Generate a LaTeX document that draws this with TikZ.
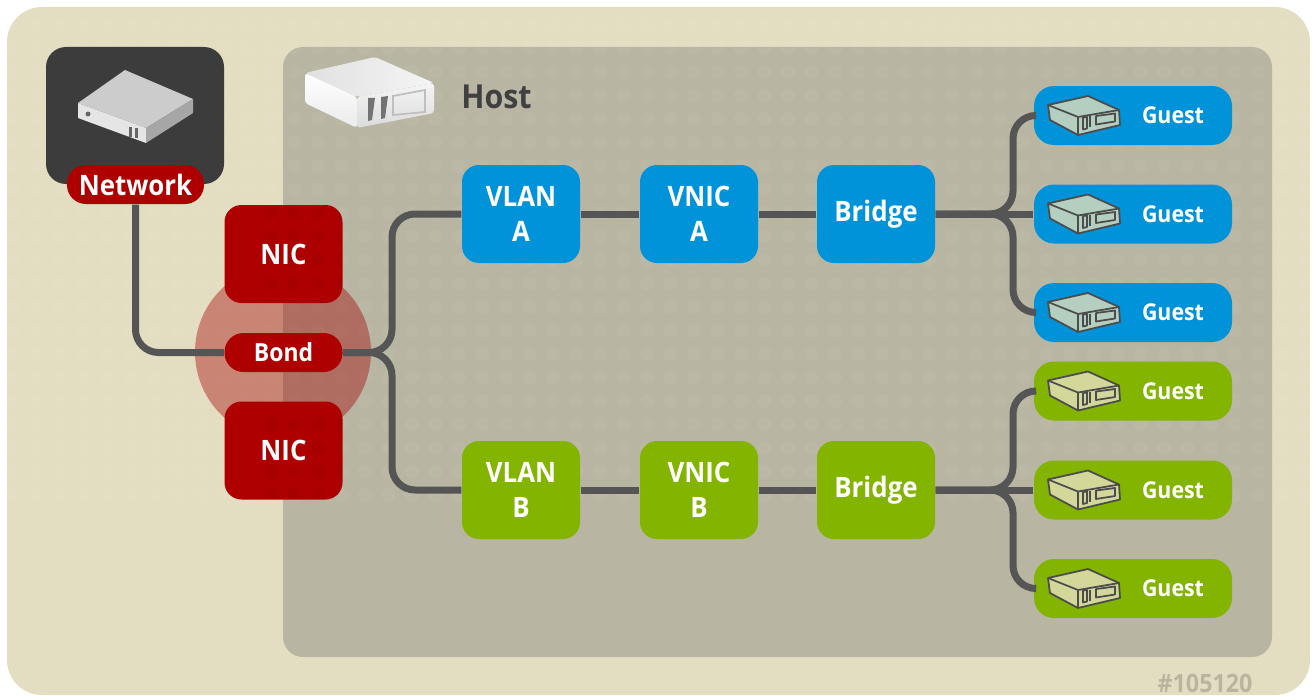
\documentclass[tikz,border=0pt]{standalone}
\usepackage{fontspec}
\setmainfont[FakeStretch=.92]{Open Sans}
\usepackage{tikz, xcolor}

\definecolor{pagebeige}{HTML}{E3DDC2}
\definecolor{hostgrey}{HTML}{B8B5A3}
\definecolor{darkbox}{HTML}{3C3C3C}
\definecolor{wiregrey}{HTML}{555555}
\definecolor{nicred}{HTML}{AE0000}
\definecolor{halored}{HTML}{A20000}
\definecolor{netblue}{HTML}{0093D9}
\definecolor{netgreen}{HTML}{82B400}
\definecolor{guestmint}{HTML}{B4CFC0}
\definecolor{guestpale}{HTML}{D3D89A}

\tikzset{
    wire/.style={line width=.07cm, color=wiregrey, rounded corners=.23cm},
    netbox/.style={rounded corners=.17cm, minimum width=1.18cm, minimum height=.98cm, inner sep=0pt, align=center, text=white, font=\bfseries\fontsize{8}{10}\selectfont},
    pill/.style={netbox, fill=nicred, rounded corners=.19cm, minimum height=.39cm},
    guestbox/.style={netbox, rounded corners=.2cm, minimum width=1.98cm, minimum height=.59cm, font=\bfseries\fontsize{6.6}{8}\selectfont},
    iconline/.style={draw=black!70, line width=.5pt, line join=round},
    guesticon/.pic={
        \draw [fill=#1, iconline] (.04, .195) -- (-.36, .105) -- (-.34, -.045) -- (-.06, -.195) -- (.36, -.095) -- (.35, .055) -- cycle;
        \draw [iconline] (-.36, .105) -- (-.06, -.015) -- (.35, .055);
        \draw [iconline] (-.06, -.015) -- (-.06, -.195);
        \draw [iconline] (.12, -.005) -- (.31, .02) -- (.31, -.06) -- (.12, -.09) -- cycle;
        \draw [iconline] (-.01, -.02) -- (-.01, -.14) -- (.03, -.13) -- (.03, -.015) -- cycle;
        \draw [iconline] (.06, -.01) -- (.06, -.12);
    }
}

\begin{document}
\begin{tikzpicture}
    \useasboundingbox (0, 0) rectangle (13.13, 6.95);
    \fill [fill=pagebeige, rounded corners=.35cm] (.07, 0) rectangle (13.1, 6.88);
    \fill [fill=hostgrey, rounded corners=.2cm] (2.83, .38) rectangle (12.72, 6.48);

    \begin{scope}
        \clip [rounded corners=.35cm] (.07, 0) rectangle (13.1, 6.88);
        \foreach \i in {0, ..., 55} {
            \foreach \j in {8, ..., 28} {
                \fill [fill=white, opacity=.045] (.125 + .235 * \i, .12 + .235 * \j) circle (.07);
            }
        }
    \end{scope}

    \fill [fill=halored, opacity=.4] (2.83, 3.43) circle (.88);

    \node (networkbox) [netbox, fill=darkbox, rounded corners=.2cm, minimum width=1.78cm, minimum height=1.37cm] at (1.35, 5.795) {};
    \node (networklabel) [pill, minimum width=1.37cm] at (1.355, 5.105) {Network};

    \fill [fill=black!20] (.78, 5.92) -- (1.25, 6.25) -- (1.93, 5.96) -- (1.46, 5.67) -- cycle;
    \fill [fill=black!10] (.78, 5.92) -- (1.46, 5.67) -- (1.46, 5.52) -- (.78, 5.77) -- cycle;
    \fill [fill=black!35] (1.46, 5.67) -- (1.93, 5.96) -- (1.93, 5.82) -- (1.46, 5.52) -- cycle;
    \fill [fill=black!60] (.88, 5.81) circle (.025);
    \fill [fill=black!60] (1.29, 5.68) rectangle (1.32, 5.58);
    \fill [fill=black!60] (1.35, 5.67) rectangle (1.38, 5.57);

    \shade [left color=black!12, right color=black!4, rounded corners=.03cm] (3.05, 6.22) -- (3.75, 6.38) -- (4.34, 6.12) -- (3.57, 5.98) -- cycle;
    \shade [top color=white, bottom color=black!8, rounded corners=.03cm] (3.05, 6.22) -- (3.57, 5.98) -- (3.57, 5.67) -- (3.05, 5.92) -- cycle;
    \shade [top color=black!4, bottom color=black!14, rounded corners=.03cm] (3.57, 5.98) -- (4.34, 6.12) -- (4.34, 5.82) -- (3.57, 5.67) -- cycle;
    \fill [fill=black!55] (3.68, 5.97) -- (3.75, 5.97) -- (3.72, 5.75) -- (3.68, 5.74) -- cycle;
    \fill [fill=black!55] (3.81, 5.98) -- (3.88, 5.99) -- (3.85, 5.77) -- (3.81, 5.76) -- cycle;
    \draw [draw=black!25, line width=.5pt] (3.93, 5.99) -- (4.25, 6.05) -- (4.25, 5.83) -- (3.93, 5.8) -- cycle;
    \node (hostlabel) [text=black!75, font=\bfseries\fontsize{9.4}{11}\selectfont] at (4.965, 5.98) {Host};

    \node (nictop) [netbox, fill=nicred] at (2.835, 4.41) {NIC};
    \node (bond) [pill, font=\bfseries\fontsize{7.1}{8}\selectfont] at (2.835, 3.425) {Bond};
    \node (nicbottom) [netbox, fill=nicred] at (2.835, 2.445) {NIC};

    \node (vlana) [netbox, fill=netblue] at (5.21, 4.81) {VLAN\\A};
    \node (vnica) [netbox, fill=netblue] at (6.99, 4.81) {VNIC\\A};
    \node (bridgea) [netbox, fill=netblue] at (8.76, 4.81) {Bridge};

    \node (vlanb) [netbox, fill=netgreen] at (5.21, 2.05) {VLAN\\B};
    \node (vnicb) [netbox, fill=netgreen] at (6.99, 2.05) {VNIC\\B};
    \node (bridgeb) [netbox, fill=netgreen] at (8.76, 2.05) {Bridge};

    \foreach \guest/\ypos in {guesta1/5.795, guesta2/4.81, guesta3/3.825} {
        \node (\guest) [guestbox, fill=netblue] at (11.33, \ypos) {\hspace{.8cm}Guest};
        \pic at (10.84, \ypos) {guesticon=guestmint};
    }
    \foreach \guest/\ypos in {guestb1/3.04, guestb2/2.05, guestb3/1.065} {
        \node (\guest) [guestbox, fill=netgreen] at (11.33, \ypos) {\hspace{.8cm}Guest};
        \pic at (10.84, \ypos) {guesticon=guestpale};
    }

    \coordinate (busa) at (3.92, 4.81);
    \coordinate (busb) at (3.92, 2.05);
    \coordinate (tapa1) at (10.13, 5.795);
    \coordinate (tapa3) at (10.13, 3.825);
    \coordinate (tapb1) at (10.13, 3.04);
    \coordinate (tapb3) at (10.13, 1.065);

    \draw [wire] (networklabel.south) |- (bond.west);
    \draw [wire] (bond.east) -| (busa) -- (vlana.west);
    \draw [wire] (bond.east) -| (busb) -- (vlanb.west);

    \draw [wire] (vlana) to (vnica);
    \draw [wire] (vnica) to (bridgea);
    \draw [wire] (vlanb) to (vnicb);
    \draw [wire] (vnicb) to (bridgeb);

    \draw [wire] (bridgea.east) to (guesta2.west);
    \draw [wire] (bridgea.east) -| (tapa1) -- (guesta1.west);
    \draw [wire] (bridgea.east) -| (tapa3) -- (guesta3.west);
    \draw [wire] (bridgeb.east) to (guestb2.west);
    \draw [wire] (bridgeb.east) -| (tapb1) -- (guestb1.west);
    \draw [wire] (bridgeb.east) -| (tapb3) -- (guestb3.west);

    \begin{scope}
        \clip [rounded corners=.17cm] (2.245, 1.955) rectangle (3.425, 2.935);
        \foreach \i in {11, ..., 14} {
            \foreach \j in {7, ..., 11} {
                \fill [fill=black, opacity=.03] (.125 + .235 * \i, .12 + .235 * \j) circle (.07);
            }
        }
    \end{scope}
    \begin{scope}
        \clip [rounded corners=.17cm] (2.245, 3.92) rectangle (3.425, 4.9);
        \foreach \i in {11, ..., 14} {
            \foreach \j in {16, ..., 20} {
                \fill [fill=black, opacity=.03] (.125 + .235 * \i, .12 + .235 * \j) circle (.07);
            }
        }
    \end{scope}

    \node (figureno) [text=black!18!pagebeige, font=\bfseries\fontsize{7.2}{9}\selectfont] at (12.05, .12) {\#105120};
\end{tikzpicture}
\end{document}
